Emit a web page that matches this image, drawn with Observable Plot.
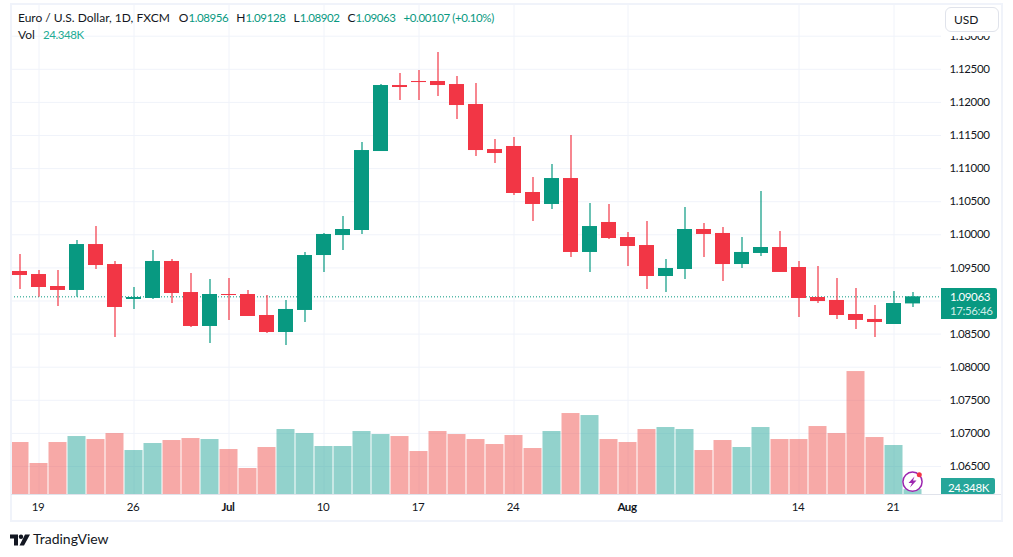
<!DOCTYPE html>
<html>
<head>
<meta charset="utf-8">
<script src="https://cdn.jsdelivr.net/npm/d3@7"></script>
<script src="https://cdn.jsdelivr.net/npm/@observablehq/plot@0.6"></script>
<style>
  html,body{margin:0;padding:0;background:#fff;}
  #page{position:relative;width:1013px;height:557px;overflow:hidden;font-family:"Lato",sans-serif;color:#131722;}
  #page svg.plot-svg{position:absolute;left:0;top:0;}
  #page svg g[aria-label$="tick label"] text{letter-spacing:-0.4px;}
  .ov{position:absolute;white-space:nowrap;}
  .up{color:#089981;}
  .num{font-size:11.5px;letter-spacing:-0.4px;}
</style>
</head>
<body>
<div id="page"></div>
<script>
const dates = ["2023-06-16","2023-06-19","2023-06-20","2023-06-21","2023-06-22","2023-06-23","2023-06-26","2023-06-27","2023-06-28","2023-06-29","2023-06-30","2023-07-03","2023-07-04","2023-07-05","2023-07-06","2023-07-07","2023-07-10","2023-07-11","2023-07-12","2023-07-13","2023-07-14","2023-07-17","2023-07-18","2023-07-19","2023-07-20","2023-07-21","2023-07-24","2023-07-25","2023-07-26","2023-07-27","2023-07-28","2023-07-31","2023-08-01","2023-08-02","2023-08-03","2023-08-04","2023-08-07","2023-08-08","2023-08-09","2023-08-10","2023-08-11","2023-08-14","2023-08-15","2023-08-16","2023-08-17","2023-08-18","2023-08-21","2023-08-22"];
const futureSlot = "2023-08-23";
const opens  = [1.09446,1.09400,1.09219,1.09159,1.09853,1.09551,1.09023,1.09038,1.09597,1.09128,1.08615,1.09098,1.09098,1.08781,1.08524,1.08857,1.09687,1.09989,1.10065,1.11258,1.12255,1.12316,1.12316,1.12270,1.11968,1.11288,1.11334,1.10639,1.10458,1.10850,1.09733,1.10186,1.09959,1.09838,1.09370,1.09476,1.10080,1.10020,1.09551,1.09718,1.09808,1.09506,1.09053,1.09008,1.08796,1.08721,1.08645,1.08956];
const highs  = [1.09702,1.09461,1.09461,1.09914,1.10125,1.09597,1.09204,1.09763,1.09627,1.09415,1.09325,1.09340,1.09159,1.09083,1.09008,1.09733,1.10020,1.10276,1.11394,1.12270,1.12436,1.12482,1.12754,1.12391,1.12285,1.11439,1.11470,1.10866,1.11062,1.11500,1.10473,1.10458,1.10035,1.10201,1.09627,1.10412,1.10171,1.10110,1.09959,1.10654,1.10050,1.09597,1.09521,1.09340,1.09189,1.08932,1.09144,1.09128];
const lows   = [1.09174,1.09058,1.08917,1.09058,1.09476,1.08449,1.08872,1.09023,1.08962,1.08600,1.08358,1.08705,1.08766,1.08509,1.08328,1.08675,1.09431,1.09763,1.10005,1.11258,1.12029,1.12029,1.12089,1.11742,1.11183,1.11077,1.10594,1.10201,1.10382,1.09657,1.09431,1.09929,1.09521,1.09174,1.09128,1.09325,1.09657,1.09295,1.09491,1.09672,1.09431,1.08751,1.08962,1.08721,1.08570,1.08449,1.08645,1.08902];
const closes = [1.09385,1.09204,1.09159,1.09853,1.09536,1.08902,1.09053,1.09597,1.09113,1.08615,1.09098,1.09083,1.08766,1.08524,1.08872,1.09687,1.10005,1.10080,1.11273,1.12255,1.12225,1.12300,1.12255,1.11953,1.11273,1.11228,1.10624,1.10458,1.10850,1.09733,1.10125,1.09944,1.09823,1.09370,1.09491,1.10080,1.10005,1.09551,1.09733,1.09808,1.09431,1.09038,1.08992,1.08781,1.08706,1.08675,1.08962,1.09063];
const volumesK = [260,155,260,290,275,305,220,255,270,280,275,225,130,235,325,305,240,240,315,300,290,215,315,300,275,250,295,230,315,405,395,275,260,325,335,325,220,270,235,335,275,275,340,305,615,285,245,24.348];

const priceGrid = [1.13,1.125,1.12,1.115,1.11,1.105,1.10,1.095,1.09,1.085,1.08,1.075,1.07,1.065];
// the 1.09000 label is hidden behind the last-price tag in the reference
const priceLabels = [1.13,1.125,1.12,1.115,1.11,1.105,1.10,1.095,1.085,1.08,1.075,1.07,1.065];
const dayTicks = ["2023-06-19","2023-06-26","2023-07-10","2023-07-17","2023-07-24","2023-08-14","2023-08-21"];
const monthTicks = ["2023-07-03","2023-08-01"];
const tickNames = {"2023-06-19":"19","2023-06-26":"26","2023-07-03":"Jul","2023-07-10":"10","2023-07-17":"17","2023-07-24":"24","2023-08-01":"Aug","2023-08-14":"14","2023-08-21":"21"};

const GREEN = "#089981", RED = "#f23645";
const rows = dates.map((date,i)=>({date,open:opens[i],high:highs[i],low:lows[i],close:closes[i],vol:volumesK[i],up:closes[i]>=opens[i]}));
const last = rows[rows.length-1];
const priceFloor = 1.06077;
// secondary (volume) axis expressed in price units: the documented Plot dual-axis pattern
const volToPrice = d3.scaleLinear([0,1000],[priceFloor, priceFloor+0.0302]);

const axisFont = {fontSize:11.5, fill:"#131722"};
const chart = Plot.plot({
  width:1013, height:530,
  marginLeft:11, marginRight:72, marginTop:3, marginBottom:36,
  style:{fontFamily:'"Lato",sans-serif',background:"transparent",overflow:"visible"},
  x:{type:"band",domain:[...dates,futureSlot],range:[9.2,941.2],padding:0,axis:null},
  y:{domain:[priceFloor,1.13494],axis:null},
  marks:[
    Plot.ruleY(priceGrid,{stroke:"#f0f3fa",strokeWidth:1}),
    Plot.ruleX([...dayTicks,...monthTicks],{stroke:"#f0f3fa",strokeWidth:1,y1:priceFloor,y2:1.13494}),
    Plot.barY(rows,{x:"date",y1:priceFloor,y2:d=>volToPrice(d.vol),fill:d=>d.up?"#26a69a":"#ef5350",fillOpacity:0.5,insetLeft:0.5,insetRight:0.5}),
    Plot.ruleY([last.close],{stroke:GREEN,strokeWidth:1,strokeDasharray:"1 2"}),
    Plot.ruleX(rows,{x:"date",y1:"low",y2:"high",stroke:d=>d.up?GREEN:RED,strokeWidth:1.2}),
    Plot.barY(rows,{x:"date",y1:"open",y2:"close",fill:d=>d.up?GREEN:RED,insetLeft:2,insetRight:2}),
    Plot.axisY({anchor:"right",ticks:priceLabels,tickFormat:d3.format(".5f"),tickSize:0,tickPadding:8,label:null,...axisFont}),
    Plot.axisX({anchor:"bottom",ticks:dayTicks,tickFormat:d=>tickNames[d],tickSize:0,tickPadding:8,dx:-1,label:null,...axisFont}),
    Plot.axisX({anchor:"bottom",ticks:monthTicks,tickFormat:d=>tickNames[d],tickSize:0,tickPadding:8,dx:-1,label:null,fontWeight:700,...axisFont})
  ]
});
const page = document.getElementById("page");
page.appendChild(chart);

function ov(style,html){const e=document.createElement("div");e.className="ov";e.style.cssText=style;e.innerHTML=html;page.appendChild(e);return e;}
const f5=d3.format(".5f");
const sym=(t,gap)=>`<span style="margin-left:${gap}px">${t}</span>`;
const val=v=>`<span class="up num">${v}</span>`;
ov("left:10px;top:3px;width:989px;height:515px;border:2px solid #f0f3fa;","");
ov("left:11px;top:494px;width:990px;height:1px;background:#e0e3eb;","");
ov("left:18px;top:10px;font-size:12px;line-height:15px;",
  `Euro / U.S. Dollar, 1D, FXCM${sym("O",9)}${val(f5(last.open))}${sym("H",8)}${val(f5(last.high))}${sym("L",8)}${val(f5(last.low))}${sym("C",8)}${val(f5(last.close))}<span class="up num" style="margin-left:8px">+0.00107 (+0.10%)</span>`);
ov("left:18px;top:27px;font-size:12px;line-height:15px;",`Vol<span class="num" style="color:#22ab94;margin-left:8px">${last.vol}K</span>`);
ov("left:942px;top:5px;width:59px;height:31px;background:#fff;","");
ov("left:945px;top:7px;width:52px;height:23px;border:1px solid #e0e3eb;border-radius:6px;background:#fff;font-size:12px;line-height:23px;text-indent:8px;","USD");
ov("left:941px;top:288px;width:56px;height:31px;background:#089981;border-radius:0 2px 2px 0;color:#fff;line-height:14px;",
  `<div class="num" style="margin:2px 0 0 9px">${f5(last.close)}</div><div class="num" style="margin-left:9px;color:#cfece7">17:56:46</div>`);
ov("left:941px;top:478px;width:54px;height:16px;background:#26a69a;border-radius:0 2px 2px 0;color:#fff;line-height:16px;text-indent:7px;",`<span class="num">${last.vol}K</span>`);
ov("left:901px;top:469px;",`<svg width="24" height="24" viewBox="0 0 24 24"><circle cx="11.5" cy="12.7" r="9.6" fill="#fff" stroke="#9c27b0" stroke-width="1.5"/><path d="M13.5 7.5 L7.5 14 L11 14 L9 18.5 L15.5 11.5 L12 11.5 Z" fill="#9c27b0"/><circle cx="18.3" cy="5.7" r="2.5" fill="#f23645"/></svg>`);
ov("left:10px;top:531px;",`<svg width="20" height="14" viewBox="0 0 20 14"><path d="M0 1.5H8V12.5H4V5.5H0Z M15 1.5H20L14 12.5H9.5Z" fill="#131722"/><circle cx="11" cy="3.8" r="2.2" fill="#131722"/></svg>`);
ov("left:33px;top:530px;font-size:14px;line-height:17px;","TradingView");
</script>
</body>
</html>
